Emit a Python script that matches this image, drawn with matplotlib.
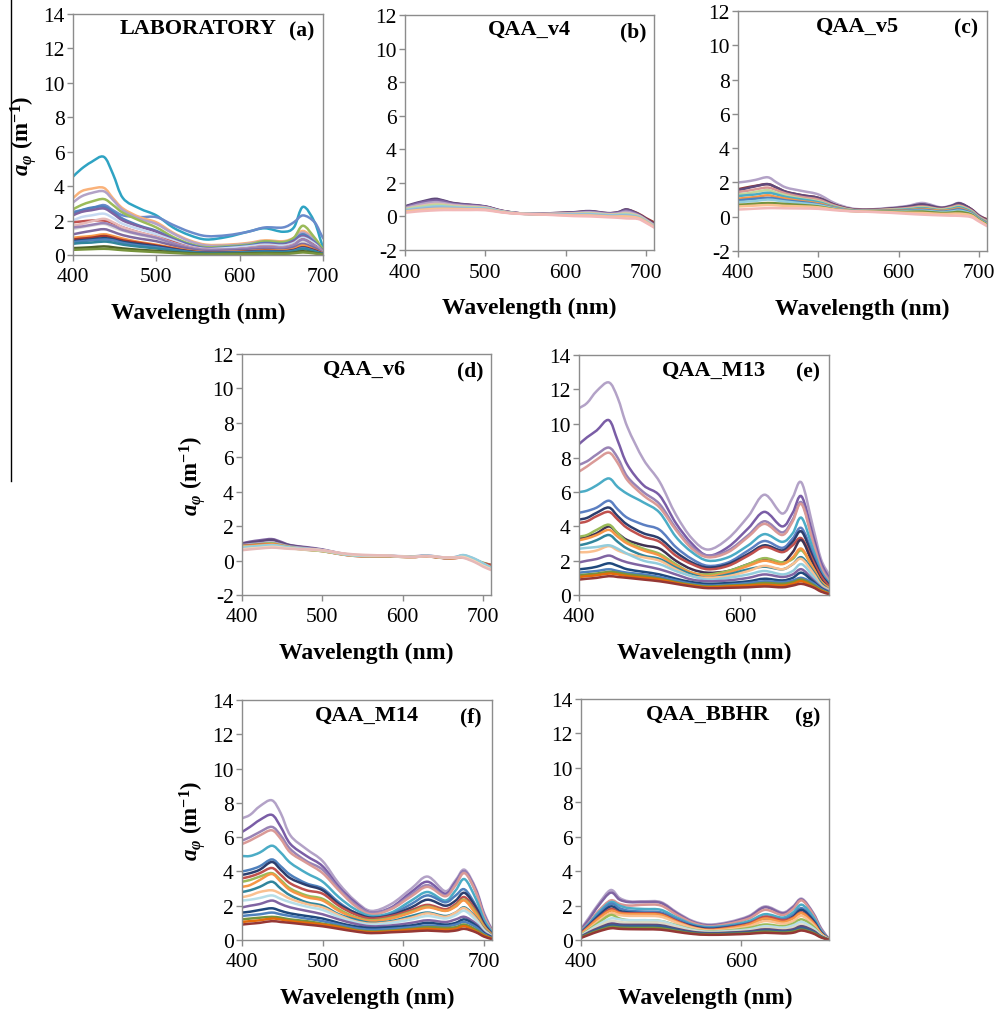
import matplotlib
matplotlib.use('Agg')
import matplotlib.pyplot as plt
from matplotlib.lines import Line2D
from matplotlib.path import Path
from matplotlib.patches import PathPatch

plt.rcParams['font.family'] = 'Liberation Serif'
plt.rcParams['axes.unicode_minus'] = False
plt.rcParams['mathtext.fontset'] = 'custom'
plt.rcParams['mathtext.it'] = 'Liberation Serif:italic:bold'
plt.rcParams['mathtext.rm'] = 'Liberation Serif:bold'
plt.rcParams['mathtext.bf'] = 'Liberation Serif:bold'

# wavelength nodes (nm) shared by every spectrum
wl = [400, 410, 422, 437, 448, 460, 480, 500, 520, 540, 560, 585, 610, 630, 652, 665, 676, 690, 700, 710]

# (a) laboratory measured a_phi
lab = [
    [4.55, 5.0, 5.4, 5.7, 4.7, 3.3, 2.7, 2.3, 1.6, 1.15, 0.9, 1.05, 1.35, 1.55, 1.35, 1.6, 2.8, 1.9, 0.5, 0.2],
    [2.5, 2.6, 2.7, 2.9, 2.6, 2.3, 2.2, 2.2, 1.75, 1.35, 1.1, 1.15, 1.35, 1.6, 1.6, 1.9, 2.3, 1.9, 1.0, 0.6],
    [3.3, 3.7, 3.85, 3.9, 3.3, 2.7, 2.2, 1.9, 1.3, 0.85, 0.6, 0.6, 0.7, 0.85, 0.8, 1.0, 1.4, 0.9, 0.3, 0.1],
    [3.05, 3.4, 3.6, 3.7, 3.2, 2.6, 2.1, 1.8, 1.25, 0.8, 0.55, 0.55, 0.65, 0.8, 0.75, 0.95, 1.3, 0.85, 0.3, 0.1],
    [2.65, 2.9, 3.1, 3.25, 2.9, 2.45, 2.0, 1.6, 1.05, 0.65, 0.45, 0.5, 0.6, 0.8, 0.75, 1.0, 1.7, 1.0, 0.35, 0.1],
    [2.4, 2.6, 2.75, 2.8, 2.5, 2.1, 1.7, 1.4, 0.95, 0.6, 0.4, 0.45, 0.55, 0.7, 0.65, 0.85, 1.2, 0.75, 0.25, 0.08],
    [2.3, 2.5, 2.6, 2.7, 2.4, 2.0, 1.65, 1.35, 0.9, 0.55, 0.38, 0.4, 0.5, 0.65, 0.6, 0.8, 1.1, 0.7, 0.25, 0.08],
    [2.0, 2.2, 2.3, 2.4, 2.15, 1.8, 1.5, 1.2, 0.85, 0.5, 0.35, 0.4, 0.5, 0.6, 0.55, 0.7, 1.0, 0.65, 0.2, 0.05],
    [1.9, 1.95, 2.0, 2.0, 1.85, 1.6, 1.3, 1.05, 0.75, 0.45, 0.3, 0.3, 0.4, 0.5, 0.45, 0.6, 0.9, 0.55, 0.2, 0.05],
    [1.7, 1.8, 1.95, 2.1, 1.9, 1.6, 1.3, 1.05, 0.7, 0.45, 0.3, 0.3, 0.4, 0.5, 0.45, 0.6, 0.85, 0.5, 0.18, 0.05],
    [1.5, 1.6, 1.7, 1.8, 1.6, 1.4, 1.15, 0.95, 0.65, 0.4, 0.28, 0.3, 0.35, 0.45, 0.4, 0.55, 0.8, 0.5, 0.15, 0.05],
    [1.6, 1.65, 1.75, 1.85, 1.7, 1.45, 1.2, 1.0, 0.68, 0.42, 0.3, 0.32, 0.38, 0.48, 0.43, 0.58, 0.9, 0.52, 0.16, 0.05],
    [1.2, 1.3, 1.4, 1.5, 1.35, 1.15, 0.95, 0.8, 0.55, 0.35, 0.22, 0.25, 0.3, 0.35, 0.32, 0.45, 0.65, 0.4, 0.12, 0.03],
    [1.0, 1.05, 1.1, 1.2, 1.1, 0.95, 0.75, 0.6, 0.42, 0.25, 0.16, 0.18, 0.22, 0.28, 0.26, 0.35, 0.55, 0.3, 0.1, 0.02],
    [0.9, 0.95, 1.0, 1.1, 1.0, 0.85, 0.7, 0.55, 0.38, 0.22, 0.14, 0.15, 0.2, 0.25, 0.22, 0.3, 0.45, 0.28, 0.08, 0.02],
    [0.8, 0.85, 0.9, 0.98, 0.9, 0.76, 0.62, 0.5, 0.34, 0.2, 0.13, 0.14, 0.18, 0.22, 0.2, 0.27, 0.42, 0.24, 0.07, 0.02],
    [0.75, 0.8, 0.85, 0.9, 0.85, 0.7, 0.55, 0.45, 0.3, 0.18, 0.12, 0.13, 0.17, 0.2, 0.18, 0.25, 0.4, 0.22, 0.06, 0.02],
    [0.65, 0.7, 0.72, 0.78, 0.72, 0.6, 0.48, 0.38, 0.26, 0.15, 0.1, 0.11, 0.14, 0.17, 0.16, 0.22, 0.35, 0.2, 0.05, 0.01],
    [0.4, 0.42, 0.45, 0.5, 0.45, 0.38, 0.3, 0.24, 0.16, 0.1, 0.06, 0.07, 0.09, 0.11, 0.1, 0.14, 0.22, 0.12, 0.04, 0.01],
    [0.3, 0.32, 0.34, 0.36, 0.33, 0.28, 0.22, 0.17, 0.12, 0.07, 0.04, 0.05, 0.06, 0.08, 0.07, 0.1, 0.15, 0.09, 0.03, 0.01],
]
lab_colors = ['#2FA3C3', '#6A8BCB', '#FAB27A', '#B3A2C7', '#9BBB59', '#4F81BD', '#8064A2', '#C6D9F1',
              '#C0504D', '#E6B9B8', '#D9D9D9', '#9983B5', '#7F6A9F', '#F79646', '#A0362F', '#1F497D',
              '#4F81BD', '#31859C', '#4F6228', '#77933C']

# (b) QAA_v4
qaa_v4 = [
    [0.58, 0.7, 0.85, 1.0, 0.92, 0.78, 0.68, 0.58, 0.34, 0.2, 0.15, 0.19, 0.24, 0.3, 0.19, 0.24, 0.4, 0.18, -0.1, -0.35],
    [0.6, 0.75, 0.9, 1.05, 0.95, 0.8, 0.7, 0.6, 0.35, 0.2, 0.15, 0.2, 0.25, 0.32, 0.2, 0.25, 0.42, 0.15, -0.15, -0.45],
    [0.55, 0.7, 0.85, 0.95, 0.9, 0.75, 0.68, 0.58, 0.33, 0.2, 0.15, 0.18, 0.22, 0.28, 0.18, 0.22, 0.35, 0.12, -0.18, -0.5],
    [0.5, 0.62, 0.75, 0.85, 0.8, 0.7, 0.62, 0.55, 0.32, 0.2, 0.15, 0.17, 0.2, 0.25, 0.15, 0.18, 0.28, 0.08, -0.2, -0.52],
    [0.45, 0.55, 0.65, 0.75, 0.72, 0.65, 0.58, 0.52, 0.3, 0.18, 0.14, 0.15, 0.17, 0.2, 0.12, 0.14, 0.2, 0.05, -0.22, -0.55],
    [0.42, 0.52, 0.6, 0.7, 0.68, 0.6, 0.55, 0.5, 0.3, 0.18, 0.14, 0.14, 0.15, 0.18, 0.1, 0.12, 0.16, 0.02, -0.25, -0.57],
    [0.38, 0.45, 0.52, 0.6, 0.6, 0.55, 0.5, 0.47, 0.28, 0.18, 0.14, 0.13, 0.12, 0.14, 0.07, 0.08, 0.1, -0.02, -0.28, -0.6],
    [0.33, 0.4, 0.46, 0.52, 0.52, 0.5, 0.46, 0.44, 0.27, 0.17, 0.13, 0.12, 0.1, 0.1, 0.04, 0.04, 0.05, -0.05, -0.3, -0.62],
    [0.3, 0.35, 0.4, 0.45, 0.46, 0.45, 0.43, 0.41, 0.26, 0.17, 0.13, 0.1, 0.06, 0.06, 0.0, 0.0, 0.0, -0.08, -0.32, -0.63],
    [0.22, 0.27, 0.32, 0.36, 0.38, 0.38, 0.38, 0.37, 0.24, 0.16, 0.13, 0.08, 0.02, 0.0, -0.05, -0.08, -0.12, -0.15, -0.38, -0.66],
]
qaa_v4_colors = ['#953735', '#5F497A', '#8064A2', '#B3A2C7', '#E6B9B8', '#C3D69B', '#93CDDD', '#95B3D7',
                 '#FAC090', '#F2B8B8']

# (c) QAA_v5
qaa_v5 = [
    [2.0, 2.05, 2.15, 2.3, 2.0, 1.7, 1.5, 1.3, 0.8, 0.5, 0.42, 0.5, 0.62, 0.8, 0.55, 0.65, 0.8, 0.45, 0.1, -0.2],
    [1.6, 1.7, 1.8, 1.9, 1.7, 1.45, 1.25, 1.1, 0.7, 0.45, 0.4, 0.45, 0.55, 0.68, 0.5, 0.6, 0.75, 0.45, 0.05, -0.15],
    [1.55, 1.65, 1.78, 1.9, 1.7, 1.45, 1.25, 1.1, 0.7, 0.45, 0.4, 0.46, 0.58, 0.72, 0.52, 0.62, 0.78, 0.45, 0.05, -0.2],
    [1.45, 1.5, 1.6, 1.7, 1.55, 1.35, 1.15, 1.0, 0.65, 0.42, 0.38, 0.42, 0.5, 0.6, 0.45, 0.55, 0.65, 0.38, 0.0, -0.25],
    [1.3, 1.35, 1.45, 1.55, 1.4, 1.25, 1.05, 0.9, 0.6, 0.4, 0.36, 0.4, 0.45, 0.55, 0.42, 0.5, 0.6, 0.33, -0.05, -0.3],
    [1.2, 1.25, 1.3, 1.4, 1.3, 1.15, 1.0, 0.85, 0.57, 0.38, 0.35, 0.37, 0.42, 0.5, 0.38, 0.45, 0.55, 0.3, -0.07, -0.33],
    [1.05, 1.1, 1.15, 1.25, 1.15, 1.05, 0.9, 0.78, 0.53, 0.37, 0.34, 0.35, 0.38, 0.45, 0.35, 0.4, 0.48, 0.25, -0.1, -0.36],
    [0.95, 1.0, 1.05, 1.1, 1.05, 0.95, 0.85, 0.72, 0.5, 0.36, 0.33, 0.33, 0.35, 0.4, 0.3, 0.35, 0.42, 0.22, -0.12, -0.38],
    [0.85, 0.88, 0.92, 1.0, 0.95, 0.88, 0.78, 0.68, 0.48, 0.35, 0.32, 0.31, 0.32, 0.35, 0.27, 0.3, 0.35, 0.18, -0.15, -0.42],
    [0.7, 0.72, 0.76, 0.8, 0.78, 0.74, 0.68, 0.6, 0.44, 0.34, 0.31, 0.3, 0.28, 0.3, 0.22, 0.24, 0.28, 0.14, -0.18, -0.45],
    [0.6, 0.62, 0.65, 0.68, 0.66, 0.63, 0.6, 0.55, 0.42, 0.33, 0.3, 0.27, 0.23, 0.22, 0.16, 0.17, 0.18, 0.08, -0.22, -0.5],
    [0.42, 0.44, 0.47, 0.5, 0.5, 0.49, 0.48, 0.46, 0.38, 0.32, 0.29, 0.24, 0.17, 0.12, 0.08, 0.06, 0.05, -0.02, -0.28, -0.55],
]
qaa_v5_colors = ['#B3A2C7', '#953735', '#604A7B', '#D99694', '#C3D69B', '#4BACC6', '#F79646', '#4F81BD',
                 '#93CDDD', '#77933C', '#FAC090', '#F2B8B8']

# (d) QAA_v6
qaa_v6 = [
    [1.0, 1.1, 1.18, 1.25, 1.1, 0.9, 0.78, 0.65, 0.45, 0.32, 0.27, 0.27, 0.22, 0.27, 0.15, 0.18, 0.28, 0.05, -0.15, -0.3],
    [0.98, 1.05, 1.12, 1.2, 1.05, 0.88, 0.75, 0.62, 0.43, 0.3, 0.26, 0.26, 0.22, 0.26, 0.15, 0.17, 0.25, 0.05, -0.15, -0.28],
    [0.9, 0.95, 1.0, 1.05, 0.95, 0.82, 0.72, 0.62, 0.44, 0.31, 0.27, 0.28, 0.24, 0.3, 0.18, 0.2, 0.3, 0.08, -0.2, -0.45],
    [0.85, 0.9, 0.95, 1.0, 0.9, 0.78, 0.65, 0.55, 0.4, 0.28, 0.25, 0.24, 0.2, 0.24, 0.15, 0.15, 0.22, 0.03, -0.12, -0.25],
    [0.85, 0.88, 0.92, 0.95, 0.86, 0.74, 0.63, 0.55, 0.39, 0.27, 0.24, 0.24, 0.2, 0.24, 0.14, 0.14, 0.18, -0.02, -0.15, -0.25],
    [0.82, 0.86, 0.9, 0.95, 0.88, 0.75, 0.64, 0.56, 0.4, 0.28, 0.25, 0.25, 0.2, 0.25, 0.15, 0.15, 0.2, 0.0, -0.2, -0.38],
    [0.8, 0.82, 0.85, 0.88, 0.82, 0.72, 0.62, 0.55, 0.4, 0.29, 0.26, 0.26, 0.21, 0.26, 0.16, 0.17, 0.24, 0.05, -0.18, -0.42],
    [0.75, 0.8, 0.85, 0.9, 0.85, 0.76, 0.68, 0.6, 0.42, 0.3, 0.27, 0.27, 0.22, 0.28, 0.18, 0.2, 0.32, 0.1, -0.15, -0.4],
    [0.65, 0.7, 0.74, 0.8, 0.76, 0.7, 0.66, 0.6, 0.45, 0.34, 0.3, 0.28, 0.21, 0.26, 0.18, 0.18, 0.2, -0.05, -0.3, -0.5],
    [0.6, 0.65, 0.7, 0.75, 0.72, 0.68, 0.65, 0.6, 0.45, 0.36, 0.32, 0.28, 0.2, 0.25, 0.18, 0.18, 0.15, -0.1, -0.35, -0.55],
]
qaa_v6_colors = ['#8064A2', '#5F497A', '#B3A2C7', '#9BBB59', '#C0504D', '#F79646', '#C3D69B', '#93CDDD',
                 '#FCD5B5', '#E6B9B8']

# (e) QAA_M13
qaa_m13 = [
    [10.9, 11.2, 11.9, 12.4, 11.5, 9.8, 7.9, 6.6, 4.7, 3.3, 2.65, 3.3, 4.6, 5.85, 4.75, 5.7, 6.55, 4.0, 2.1, 1.2],
    [8.8, 9.2, 9.6, 10.2, 9.0, 7.6, 6.4, 5.8, 4.2, 3.0, 2.3, 2.8, 3.9, 4.85, 4.0, 4.8, 5.75, 3.5, 1.9, 1.0],
    [7.6, 7.8, 8.2, 8.6, 8.0, 6.9, 6.0, 5.3, 3.9, 2.8, 2.3, 2.6, 3.5, 4.3, 3.65, 4.4, 5.4, 3.2, 1.7, 0.9],
    [7.2, 7.5, 7.9, 8.3, 7.7, 6.7, 5.8, 5.1, 3.8, 2.7, 2.2, 2.5, 3.4, 4.15, 3.5, 4.3, 5.3, 3.1, 1.6, 0.8],
    [6.0, 6.1, 6.4, 6.8, 6.3, 5.9, 5.4, 4.8, 3.4, 2.5, 2.0, 2.2, 2.9, 3.55, 3.1, 3.6, 4.5, 2.7, 1.4, 0.7],
    [4.8, 4.9, 5.1, 5.5, 5.0, 4.5, 4.1, 3.8, 2.8, 2.1, 1.7, 1.9, 2.6, 3.15, 2.75, 3.3, 3.9, 2.4, 1.3, 0.6],
    [4.4, 4.5, 4.8, 5.1, 4.6, 4.1, 3.6, 3.3, 2.5, 1.9, 1.6, 1.8, 2.4, 2.9, 2.6, 3.1, 3.7, 2.2, 1.2, 0.6],
    [4.2, 4.3, 4.6, 4.85, 4.4, 3.9, 3.4, 3.1, 2.3, 1.8, 1.5, 1.7, 2.3, 2.8, 2.5, 2.9, 3.3, 2.0, 1.1, 0.5],
    [3.3, 3.4, 3.6, 4.0, 3.6, 3.2, 2.9, 2.7, 2.0, 1.5, 1.3, 1.4, 1.8, 2.1, 1.9, 2.5, 3.2, 1.8, 0.9, 0.4],
    [3.4, 3.5, 3.8, 4.1, 3.6, 3.1, 2.7, 2.4, 1.8, 1.3, 1.2, 1.4, 1.8, 2.15, 1.9, 2.1, 2.6, 1.6, 0.8, 0.4],
    [3.2, 3.3, 3.5, 3.8, 3.4, 3.0, 2.6, 2.3, 1.7, 1.3, 1.1, 1.3, 1.7, 2.0, 1.8, 2.2, 2.7, 1.6, 0.8, 0.4],
    [2.9, 3.0, 3.2, 3.5, 3.1, 2.7, 2.3, 2.1, 1.6, 1.2, 1.0, 1.2, 1.5, 1.65, 1.5, 1.8, 2.2, 1.4, 0.7, 0.3],
    [2.5, 2.5, 2.6, 2.85, 2.6, 2.4, 2.2, 2.0, 1.5, 1.1, 1.0, 1.1, 1.4, 1.7, 1.5, 1.8, 2.1, 1.3, 0.6, 0.3],
    [2.7, 2.75, 2.8, 2.9, 2.7, 2.4, 2.0, 1.8, 1.4, 1.1, 0.9, 1.0, 1.2, 1.4, 1.2, 1.4, 1.8, 1.1, 0.5, 0.25],
    [1.9, 2.0, 2.1, 2.3, 2.1, 1.9, 1.7, 1.5, 1.2, 0.9, 0.8, 0.85, 1.0, 1.2, 1.05, 1.2, 1.5, 0.9, 0.45, 0.2],
    [1.5, 1.55, 1.65, 1.85, 1.7, 1.5, 1.35, 1.2, 0.95, 0.75, 0.65, 0.7, 0.8, 0.95, 0.85, 1.0, 1.3, 0.8, 0.4, 0.15],
    [1.3, 1.35, 1.4, 1.5, 1.4, 1.3, 1.2, 1.05, 0.85, 0.65, 0.55, 0.6, 0.7, 0.8, 0.75, 0.85, 1.0, 0.7, 0.35, 0.12],
    [1.15, 1.2, 1.25, 1.35, 1.3, 1.2, 1.1, 0.95, 0.75, 0.6, 0.5, 0.55, 0.6, 0.7, 0.65, 0.75, 0.9, 0.6, 0.3, 0.1],
    [1.05, 1.1, 1.15, 1.25, 1.2, 1.1, 1.0, 0.9, 0.7, 0.55, 0.45, 0.5, 0.55, 0.6, 0.55, 0.65, 0.8, 0.5, 0.25, 0.08],
    [0.9, 0.95, 1.0, 1.1, 1.05, 1.0, 0.9, 0.8, 0.65, 0.5, 0.4, 0.42, 0.45, 0.5, 0.45, 0.55, 0.65, 0.45, 0.2, 0.05],
]
qaa_m13_colors = ['#B3A2C7', '#7A5DA6', '#9983B5', '#DA9A97', '#4BACC6', '#5B7FC2', '#2C3E6E', '#C0504D',
                  '#403152', '#9BBB59', '#F79646', '#31859C', '#FAC090', '#93CDDD', '#8064A2', '#1F497D',
                  '#4F81BD', '#77933C', '#E46C0A', '#953735']

# (f) QAA_M14
qaa_m14 = [
    [7.1, 7.3, 7.8, 8.15, 7.4, 6.1, 5.3, 4.6, 3.3, 2.3, 1.7, 2.1, 3.0, 3.7, 2.85, 3.5, 4.1, 3.0, 1.6, 0.6],
    [6.3, 6.6, 7.0, 7.3, 6.6, 5.6, 4.9, 4.3, 3.1, 2.2, 1.6, 1.9, 2.8, 3.4, 2.7, 3.4, 4.0, 2.9, 1.5, 0.55],
    [5.8, 6.0, 6.3, 6.6, 6.1, 5.3, 4.6, 4.1, 3.0, 2.1, 1.6, 1.85, 2.65, 3.2, 2.6, 3.3, 4.0, 2.8, 1.45, 0.5],
    [5.6, 5.8, 6.1, 6.4, 5.9, 5.1, 4.5, 3.9, 2.9, 2.0, 1.5, 1.8, 2.55, 3.1, 2.55, 3.2, 3.9, 2.8, 1.4, 0.5],
    [4.9, 4.9, 5.1, 5.5, 5.1, 4.5, 3.9, 3.4, 2.5, 1.8, 1.4, 1.6, 2.3, 2.8, 2.3, 2.9, 3.55, 2.4, 1.2, 0.45],
    [4.0, 4.1, 4.3, 4.7, 4.3, 3.8, 3.3, 3.0, 2.2, 1.6, 1.3, 1.5, 2.1, 2.6, 2.2, 2.6, 2.95, 2.0, 1.0, 0.4],
    [3.8, 3.9, 4.1, 4.55, 4.1, 3.6, 3.2, 2.9, 2.1, 1.6, 1.3, 1.45, 1.9, 2.35, 2.0, 2.3, 2.75, 1.9, 0.95, 0.35],
    [3.6, 3.7, 3.9, 4.2, 3.8, 3.3, 2.9, 2.7, 2.0, 1.5, 1.25, 1.4, 1.75, 2.05, 1.8, 2.1, 2.5, 1.7, 0.85, 0.3],
    [3.4, 3.5, 3.7, 3.9, 3.5, 3.0, 2.6, 2.4, 1.8, 1.35, 1.15, 1.3, 1.65, 1.95, 1.7, 2.0, 2.35, 1.6, 0.8, 0.3],
    [3.1, 3.2, 3.5, 3.85, 3.4, 2.9, 2.5, 2.3, 1.7, 1.3, 1.1, 1.25, 1.6, 1.9, 1.7, 1.95, 2.3, 1.5, 0.75, 0.28],
    [2.8, 2.9, 3.1, 3.4, 3.0, 2.6, 2.2, 2.0, 1.5, 1.2, 1.0, 1.1, 1.4, 1.6, 1.4, 1.6, 1.9, 1.3, 0.65, 0.25],
    [2.5, 2.6, 2.8, 2.9, 2.7, 2.4, 2.1, 1.9, 1.45, 1.1, 0.95, 1.05, 1.3, 1.55, 1.35, 1.6, 1.85, 1.25, 0.6, 0.22],
    [2.3, 2.35, 2.45, 2.6, 2.4, 2.2, 1.95, 1.75, 1.35, 1.05, 0.9, 1.0, 1.2, 1.4, 1.25, 1.45, 1.7, 1.15, 0.55, 0.2],
    [1.9, 2.0, 2.1, 2.3, 2.1, 1.9, 1.7, 1.5, 1.2, 0.95, 0.8, 0.85, 1.0, 1.15, 1.05, 1.2, 1.35, 0.95, 0.45, 0.18],
    [1.6, 1.65, 1.75, 1.85, 1.7, 1.55, 1.4, 1.25, 1.0, 0.8, 0.7, 0.75, 0.85, 1.0, 0.9, 1.0, 1.2, 0.85, 0.4, 0.15],
    [1.4, 1.45, 1.5, 1.6, 1.5, 1.4, 1.25, 1.1, 0.9, 0.7, 0.6, 0.65, 0.75, 0.85, 0.8, 0.9, 1.05, 0.75, 0.35, 0.12],
    [1.2, 1.25, 1.3, 1.35, 1.3, 1.2, 1.1, 0.95, 0.8, 0.6, 0.5, 0.55, 0.65, 0.75, 0.7, 0.75, 0.9, 0.6, 0.3, 0.1],
    [1.05, 1.1, 1.15, 1.25, 1.2, 1.1, 1.0, 0.9, 0.75, 0.55, 0.45, 0.5, 0.6, 0.65, 0.6, 0.65, 0.8, 0.5, 0.25, 0.08],
    [0.9, 0.95, 1.0, 1.1, 1.05, 1.0, 0.9, 0.8, 0.65, 0.5, 0.4, 0.45, 0.5, 0.55, 0.5, 0.55, 0.65, 0.45, 0.2, 0.05],
]
qaa_m14_colors = ['#B3A2C7', '#7A5DA6', '#9983B5', '#DA9A97', '#4BACC6', '#4F81BD', '#2C3E6E', '#C0504D',
                  '#9BBB59', '#F79646', '#31859C', '#FAC090', '#B7DEE8', '#8064A2', '#1F497D', '#4F81BD',
                  '#77933C', '#E46C0A', '#953735']

# (g) QAA_BBHR
qaa_bbhr = [
    [0.65, 1.3, 2.1, 2.9, 2.45, 2.25, 2.25, 2.2, 1.6, 1.1, 0.9, 1.05, 1.4, 1.95, 1.6, 1.95, 2.4, 1.6, 0.7, 0.05],
    [0.6, 1.2, 2.0, 2.75, 2.35, 2.2, 2.2, 2.15, 1.55, 1.05, 0.85, 1.0, 1.35, 1.9, 1.55, 1.9, 2.35, 1.55, 0.65, 0.05],
    [0.55, 1.0, 1.7, 2.3, 2.1, 2.0, 2.05, 2.0, 1.45, 1.0, 0.8, 0.95, 1.25, 1.75, 1.45, 1.8, 2.3, 1.5, 0.6, 0.05],
    [0.5, 0.95, 1.6, 2.2, 2.0, 1.85, 1.8, 1.75, 1.3, 0.9, 0.75, 0.85, 1.1, 1.5, 1.3, 1.6, 2.05, 1.35, 0.55, 0.04],
    [0.45, 0.9, 1.5, 2.1, 1.85, 1.7, 1.65, 1.6, 1.2, 0.85, 0.7, 0.8, 1.0, 1.35, 1.2, 1.45, 1.85, 1.2, 0.5, 0.04],
    [0.42, 0.85, 1.4, 1.95, 1.7, 1.6, 1.55, 1.5, 1.1, 0.8, 0.65, 0.75, 0.95, 1.25, 1.1, 1.35, 1.75, 1.15, 0.45, 0.03],
    [0.4, 0.8, 1.3, 1.8, 1.6, 1.55, 1.55, 1.5, 1.1, 0.75, 0.6, 0.72, 0.95, 1.35, 1.15, 1.3, 1.6, 1.05, 0.4, 0.03],
    [0.35, 0.75, 1.25, 1.7, 1.55, 1.5, 1.5, 1.45, 1.05, 0.72, 0.58, 0.68, 0.9, 1.25, 1.05, 1.25, 1.55, 1.0, 0.38, 0.03],
    [0.3, 0.65, 1.1, 1.55, 1.45, 1.4, 1.4, 1.35, 1.0, 0.7, 0.55, 0.62, 0.8, 1.1, 0.95, 1.1, 1.4, 0.9, 0.35, 0.03],
    [0.28, 0.6, 1.0, 1.45, 1.25, 1.15, 1.15, 1.1, 0.85, 0.6, 0.5, 0.55, 0.7, 0.9, 0.8, 0.95, 1.2, 0.8, 0.3, 0.02],
    [0.25, 0.55, 0.9, 1.25, 1.2, 1.15, 1.15, 1.1, 0.82, 0.58, 0.48, 0.52, 0.62, 0.8, 0.72, 0.85, 1.05, 0.7, 0.28, 0.02],
    [0.22, 0.5, 0.8, 1.1, 1.05, 1.0, 1.0, 0.98, 0.75, 0.52, 0.43, 0.47, 0.55, 0.7, 0.62, 0.72, 0.9, 0.6, 0.25, 0.02],
    [0.2, 0.45, 0.7, 0.95, 0.9, 0.88, 0.88, 0.85, 0.65, 0.47, 0.4, 0.43, 0.5, 0.62, 0.55, 0.62, 0.8, 0.55, 0.22, 0.02],
    [0.18, 0.4, 0.62, 0.85, 0.82, 0.8, 0.8, 0.78, 0.6, 0.43, 0.37, 0.4, 0.45, 0.55, 0.5, 0.55, 0.7, 0.5, 0.2, 0.02],
    [0.15, 0.35, 0.55, 0.75, 0.72, 0.7, 0.7, 0.68, 0.52, 0.38, 0.33, 0.35, 0.4, 0.48, 0.43, 0.48, 0.6, 0.42, 0.18, 0.01],
    [0.12, 0.3, 0.5, 0.68, 0.65, 0.63, 0.62, 0.6, 0.47, 0.35, 0.3, 0.32, 0.36, 0.42, 0.38, 0.42, 0.55, 0.38, 0.15, 0.01],
]
qaa_bbhr_colors = ['#B3A2C7', '#8064A2', '#D99694', '#4BACC6', '#4F81BD', '#1F497D', '#C0504D', '#F79646',
                   '#FAC090', '#9BBB59', '#B7DEE8', '#DDD9C3', '#604A7B', '#376092', '#77933C', '#953735']

titles = ['LABORATORY', 'QAA_v4', 'QAA_v5', 'QAA_v6', 'QAA_M13', 'QAA_M14', 'QAA_BBHR']
tags = ['(a)', '(b)', '(c)', '(d)', '(e)', '(f)', '(g)']

W, H = 996, 1012
fig = plt.figure(figsize=(W / 100, H / 100), dpi=100)


def smooth_path(x, y):
    # smoothed line through every node (cubic Bezier segments, like a spreadsheet "smoothed line")
    n = len(x)
    verts = [(x[0], y[0])]
    codes = [Path.MOVETO]
    for i in range(n - 1):
        i0, i3 = max(i - 1, 0), min(i + 2, n - 1)
        c1 = (x[i] + (x[i + 1] - x[i0]) / 6, y[i] + (y[i + 1] - y[i0]) / 6)
        c2 = (x[i + 1] - (x[i3] - x[i]) / 6, y[i + 1] - (y[i3] - y[i]) / 6)
        verts += [c1, c2, (x[i + 1], y[i + 1])]
        codes += [Path.CURVE4] * 3
    return Path(verts, codes)


def add_panel(box, spectra, colors, title, tag, tx, xmax, ylo, yhi, xticks, ylabel):
    left, right, top, bottom = box
    ax = fig.add_axes([left / W, 1 - bottom / H, (right - left) / W, (bottom - top) / H])
    for s, c in zip(spectra, colors):
        ax.add_patch(PathPatch(smooth_path(wl, s), facecolor='none', edgecolor=c,
                               lw=1.8, joinstyle='round', capstyle='round'))
    ax.set_xlim(400, xmax)
    ax.set_ylim(ylo, yhi)
    ax.set_xticks(xticks)
    ax.set_yticks(range(ylo, yhi + 1, 2))
    for sp in ax.spines.values():
        sp.set_color('#8C8C8C')
        sp.set_linewidth(1.0)
    ax.tick_params(direction='out', length=4, width=1, color='#8C8C8C', labelsize=15.5)
    ax.tick_params(axis='x', pad=5)
    ax.tick_params(axis='y', pad=2)
    ax.set_xlabel('Wavelength (nm)', fontsize=17, fontweight='bold', labelpad=11)
    if ylabel:
        ax.set_ylabel(r'$a_{\varphi}$ (m$^{-1}$)', fontsize=16.5, fontweight='bold', labelpad=3)
    ax.text(tx, 0.94, title, transform=ax.transAxes, ha='center', va='center',
            fontsize=16, fontweight='bold')
    ax.text(0.915, 0.93, tag, transform=ax.transAxes, ha='center', va='center',
            fontsize=15.5, fontweight='bold')
    return ax


add_panel((73, 323, 15, 256), lab, lab_colors, titles[0], tags[0], 0.50, 700, 0, 14, [400, 500, 600, 700], True)
add_panel((405, 654, 16, 251), qaa_v4, qaa_v4_colors, titles[1], tags[1], 0.50, 710, -2, 12, [400, 500, 600, 700], False)
add_panel((738, 987, 12, 252), qaa_v5, qaa_v5_colors, titles[2], tags[2], 0.48, 710, -2, 12, [400, 500, 600, 700], False)
add_panel((242, 491, 355, 596), qaa_v6, qaa_v6_colors, titles[3], tags[3], 0.49, 710, -2, 12, [400, 500, 600, 700], True)
add_panel((579, 829, 356, 596), qaa_m13, qaa_m13_colors, titles[4], tags[4], 0.54, 710, 0, 14, [400, 600], False)
add_panel((242, 492, 701, 941), qaa_m14, qaa_m14_colors, titles[5], tags[5], 0.50, 710, 0, 14, [400, 500, 600, 700], True)
add_panel((581, 829, 700, 941), qaa_bbhr, qaa_bbhr_colors, titles[6], tags[6], 0.51, 710, 0, 14, [400, 600], False)

# thin rule down the left margin
fig.add_artist(Line2D([11 / W, 11 / W], [1.0, 1 - 482 / H], color='black', lw=1.0))

fig.savefig('out.png', dpi=100)
